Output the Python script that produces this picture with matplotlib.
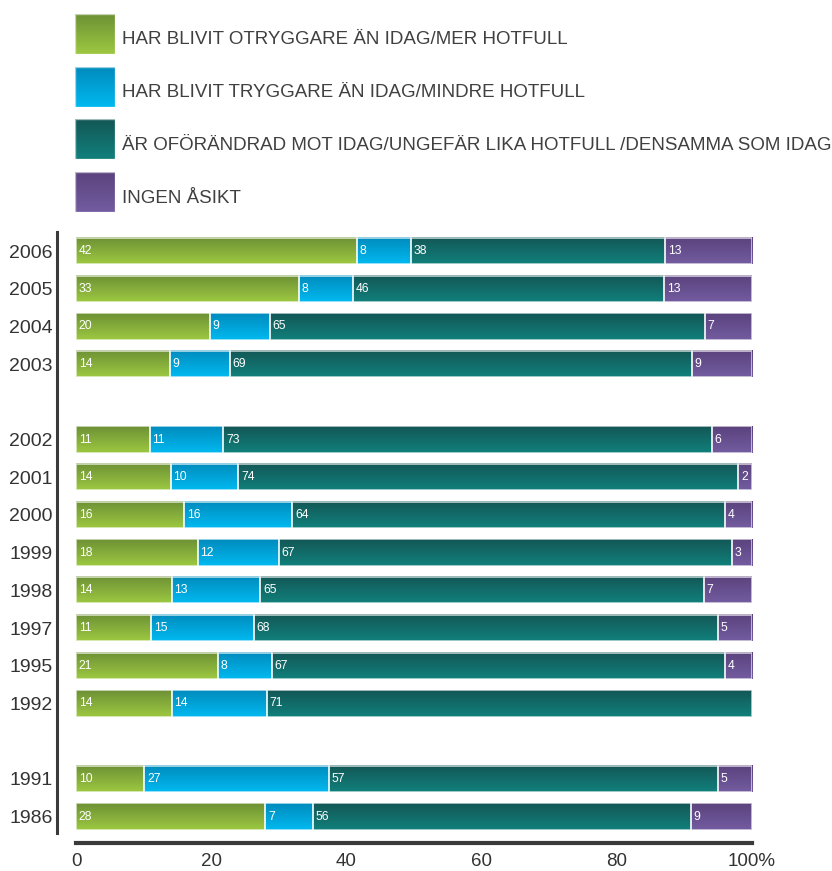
import numpy as np
import matplotlib
matplotlib.use("Agg")
import matplotlib.pyplot as plt
from matplotlib.colors import LinearSegmentedColormap

plt.rcParams['font.family'] = ['Liberation Sans', 'DejaVu Sans']

# data (percent), three groups of years with a gap between
groups = [["2006", "2005", "2004", "2003"],
          ["2002", "2001", "2000", "1999", "1998", "1997", "1995", "1992"],
          ["1991", "1986"]]
otryggare = [42, 33, 20, 14, 11, 14, 16, 18, 14, 11, 21, 14, 10, 28]
tryggare = [8, 8, 9, 9, 11, 10, 16, 12, 13, 15, 8, 14, 27, 7]
oforandrad = [38, 46, 65, 69, 73, 74, 64, 67, 65, 68, 67, 71, 57, 56]
ingen = [13, 13, 7, 9, 6, 2, 4, 3, 7, 5, 4, 0, 5, 9]
series_labels = ["HAR BLIVIT OTRYGGARE ÄN IDAG/MER HOTFULL",
                 "HAR BLIVIT TRYGGARE ÄN IDAG/MINDRE HOTFULL",
                 "ÄR OFÖRÄNDRAD MOT IDAG/UNGEFÄR LIKA HOTFULL /DENSAMMA SOM IDAG",
                 "INGEN ÅSIKT"]
xticks = [0, 20, 40, 60, 80, 100]
xticklabels = ["0", "20", "40", "60", "80", "100%"]

# gradient colours (top, bottom)
grads = [("#6d9135", "#9dc841"),
         ("#008bbd", "#00b9f0"),
         ("#135756", "#11807b"),
         ("#5b437e", "#735ca0")]
cmaps = [LinearSegmentedColormap.from_list("g%d" % i, [t, b]) for i, (t, b) in enumerate(grads)]
grad = np.linspace(0, 1, 64).reshape(-1, 1)

# slot positions with one empty slot between groups
years = []
pos = []
p = 0
for g in groups:
    for y in g:
        years.append(y)
        pos.append(p)
        p += 1
    p += 1

values = np.array([otryggare, tryggare, oforandrad, ingen], dtype=float)
totals = values.sum(axis=0)
shares = values / totals * 100

fig = plt.figure(figsize=(8.32, 8.71), dpi=100)

# legend drawn in pixel coordinates
lax = fig.add_axes([0, 0, 1, 1])
lax.set_xlim(0, 832)
lax.set_ylim(871, 0)
lax.axis('off')
for i, lab in enumerate(series_labels):
    top = 14 + i * 52.7
    lax.imshow(grad, cmap=cmaps[i], aspect='auto', extent=(75, 115, top + 40, top),
               interpolation='bilinear')
    lax.add_patch(plt.Rectangle((75, top), 40, 40, fill=False, edgecolor='white',
                                lw=1, alpha=0.6))
    lax.text(122, top + 26, lab, fontsize=13.5, color='#404040', va='center', ha='left')

ax = fig.add_axes([76 / 832, 1 - 843 / 871, 676 / 832, (843 - 232) / 871])
slot = 37.7
for s in ['top', 'right']:
    ax.spines[s].set_visible(False)
ax.spines['left'].set_position(('outward', 14))
ax.spines['left'].set_bounds((232 - 251) / slot, (833 - 251) / slot)
ax.spines['left'].set_linewidth(2.2)
ax.spines['left'].set_color('#3a3a3a')
ax.spines['bottom'].set_linewidth(3)
ax.spines['bottom'].set_color('#3a3a3a')
ax.set_facecolor('none')

h = 0.7
for j, yp in enumerate(pos):
    left = 0
    for i in range(4):
        w = shares[i, j]
        if w <= 0:
            continue
        ax.imshow(grad, cmap=cmaps[i], aspect='auto',
                  extent=(left, left + w, yp + h / 2, yp - h / 2),
                  interpolation='bilinear', zorder=2)
        ax.add_patch(plt.Rectangle((left, yp - h / 2), w, h, fill=False,
                                   edgecolor='white', lw=1.2, alpha=0.7, zorder=3))
        ax.text(left + 0.4, yp, "%d" % values[i, j], color='white', fontsize=8.7,
                va='center', ha='left', zorder=4)
        left += w

ax.set_xlim(0, 100)
ax.set_ylim((843 - 251) / slot, (232 - 251) / slot)
ax.set_yticks(pos)
ax.set_yticklabels(years)
ax.set_xticks(xticks)
ax.set_xticklabels(xticklabels)
ax.tick_params(axis='both', length=0, labelcolor='#333333')
ax.tick_params(axis='y', pad=3, labelsize=14)
ax.tick_params(axis='x', pad=7, labelsize=13.5)

fig.savefig("out.png", dpi=100)
